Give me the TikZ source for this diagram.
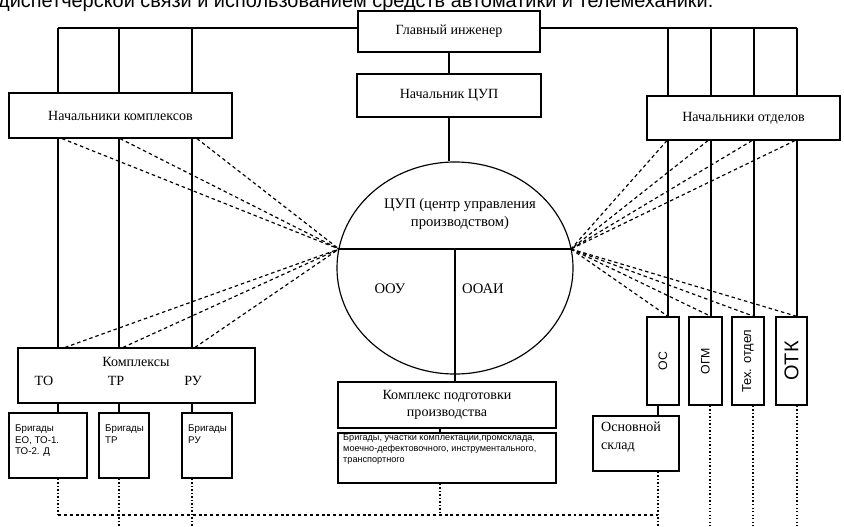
\documentclass[tikz,border=0pt]{standalone}
\usepackage{fontspec}
\setmainfont{Liberation Serif}
\newfontfamily\arialfont{Liberation Sans}
\usepackage{tikz}
\usetikzlibrary{shapes.geometric}

\begin{document}
\begin{tikzpicture}[x=0.03cm,y=-0.03cm,
  box/.style={draw,fill=white,line width=1pt,inner sep=0pt,align=center,font=\fontsize{12}{14.5}\selectfont},
  vbox/.style={box,minimum width=0.96cm,minimum height=2.64cm,font=\arialfont\fontsize{10.5}{12}\selectfont},
  btext/.style={anchor=north west,align=left,inner sep=0pt,font=\arialfont\fontsize{8.3}{9.6}\selectfont},
  link/.style={line width=0.9pt},
  ray/.style={line width=1pt,dash pattern=on 3pt off 2.5pt},
  trail/.style={line width=0.9pt,dash pattern=on 1.2pt off 1.8pt},
  base/.style={line width=0.9pt,dash pattern=on 2.5pt off 2.5pt}]
\useasboundingbox (0,0) rectangle (844,526);
\clip (0,0) rectangle (844,526);

\node[anchor=base west,inner sep=0pt,font=\arialfont\fontsize{17}{19}\selectfont] (head) at (-2,7.5)
  {диспетчерской связи и использованием средств автоматики и телемеханики.};

\coordinate (tl) at (58,28);
\coordinate (tr) at (797,28);
\coordinate (cl) at (339,249);
\coordinate (cr) at (571,249);
\coordinate (cm) at (455,249);
\coordinate (bl) at (58,515);
\coordinate (br) at (658,515);

\draw[link] (tl) -- (tr);
\foreach \x in {58,119,192} \draw[link] (\x,28) -- (\x,348);
\foreach \x in {668,711,754,797} \draw[link] (\x,28) -- (\x,317);

\node[box,minimum width=5.46cm,minimum height=1.23cm] (gi) at (449,31.5) {Главный инженер};
\node[box,minimum width=5.52cm,minimum height=1.29cm] (ncup) at (449,95.5) {Начальник ЦУП};
\node[box,minimum width=6.69cm,minimum height=1.35cm] (nk) at (120.5,115.5) {Начальники комплексов};
\node[box,minimum width=5.79cm,minimum height=1.32cm] (no) at (743.5,118) {Начальники отделов};

\node[box,minimum width=7.11cm,minimum height=1.65cm] (kx) at (136.5,375.5) {};
\node[font=\fontsize{12}{14}\selectfont] (kxt) at (136,362) {Комплексы};
\node[font=\fontsize{12}{14}\selectfont] (kto) at (44,381) {ТО};
\node[font=\fontsize{12}{14}\selectfont] (ktr) at (116,381) {ТР};
\node[font=\fontsize{12}{14}\selectfont] (kru) at (193,381) {РУ};

\node[draw,ellipse,line width=1pt,inner sep=0pt,minimum width=7.08cm,minimum height=6.36cm] (cup) at (455,268) {};
\node[align=center,font=\fontsize{12.5}{15}\selectfont] (cupt) at (460,214) {ЦУП (центр управления\\производством)};
\node[font=\fontsize{12.5}{15}\selectfont] (oou) at (390,289) {ООУ};
\node[font=\fontsize{12.5}{15}\selectfont] (ooai) at (483,289) {ООАИ};

\node[box,minimum width=6.54cm,minimum height=1.38cm] (kpp) at (447,405) {Комплекс подготовки\\производства};
\node[box,minimum width=6.54cm,minimum height=1.5cm] (brg) at (447,458) {};
\node[btext,font=\arialfont\fontsize{7.8}{9.4}\selectfont] (brgt) at (343,434)
  {Бригады, участки комплектации,промсклада,\\моечно-дефектовочного, инструментального,\\транспортного};

\node[box,minimum width=2.34cm,minimum height=1.95cm] (b1) at (48,445.5) {};
\node[box,minimum width=1.5cm,minimum height=1.95cm] (b2) at (124,445.5) {};
\node[box,minimum width=1.5cm,minimum height=1.95cm] (b3) at (207,445.5) {};
\node[btext] (b1t) at (15,425) {Бригады\\ЕО, ТО-1.\\ТО-2. Д};
\node[btext] (b2t) at (105,425) {Бригады\\ТР};
\node[btext] (b3t) at (188,425) {Бригады\\РУ};

\node[vbox] (os) at (663,361) {\rotatebox{90}{ОС}};
\node[vbox,minimum width=0.99cm] (ogm) at (705.5,361) {\rotatebox{90}{ОГМ}};
\node[vbox,font=\arialfont\fontsize{11}{12}\selectfont] (tex) at (748,361) {\rotatebox{90}{Тех. отдел}};
\node[vbox,minimum width=0.93cm,font=\arialfont\fontsize{17}{18}\selectfont] (otk) at (791.5,361) {\rotatebox{90}{ОТК}};
\node[box,minimum width=2.58cm,minimum height=1.65cm] (sklad) at (636,443.5) {};
\node[anchor=north west,align=left,inner sep=0pt,font=\fontsize{12}{15}\selectfont] (skladt) at (601,422) {Основной\\склад};

\draw[link] (gi.south) -- (ncup.north);
\draw[link] (ncup.south) -- (ncup.south |- cup.north);
\draw[link] (cl) -- (cr);
\draw[link] (cm) -- (cm |- kpp.north);
\draw[link] (440,0 |- kpp.south) -- (440,0 |- brg.north);
\foreach \x/\b in {58/b1,119/b2,192/b3} \draw[link] (\x,0 |- kx.south) -- (\x,0 |- \b.north);
\draw[link] (658,0 |- os.south) -- (658,0 |- sklad.north);

\foreach \x in {62,120,197} \draw[ray] (\x,0 |- nk.south) -- (cl);
\foreach \x in {65,123,195} \draw[ray] (\x,0 |- kx.north) -- (cl);
\foreach \x in {667,708,752,795} \draw[ray] (\x,0 |- no.south) -- (cr);
\foreach \x in {668,711,754,797} \draw[ray] (cr) -- (\x,0 |- os.north);

\draw[trail] (58,0 |- b1.south) -- (bl);
\draw[trail] (119,0 |- b2.south) -- (119,526);
\draw[trail] (192,0 |- b3.south) -- (192,526);
\draw[trail] (440,0 |- brg.south) -- (440,515);
\draw[trail] (658,0 |- sklad.south) -- (658,526);
\draw[trail] (710,0 |- ogm.south) -- (710,526);
\draw[trail] (753,0 |- tex.south) -- (753,526);
\draw[trail] (797,0 |- otk.south) -- (797,526);
\draw[base] (bl) -- (br);
\end{tikzpicture}
\end{document}
